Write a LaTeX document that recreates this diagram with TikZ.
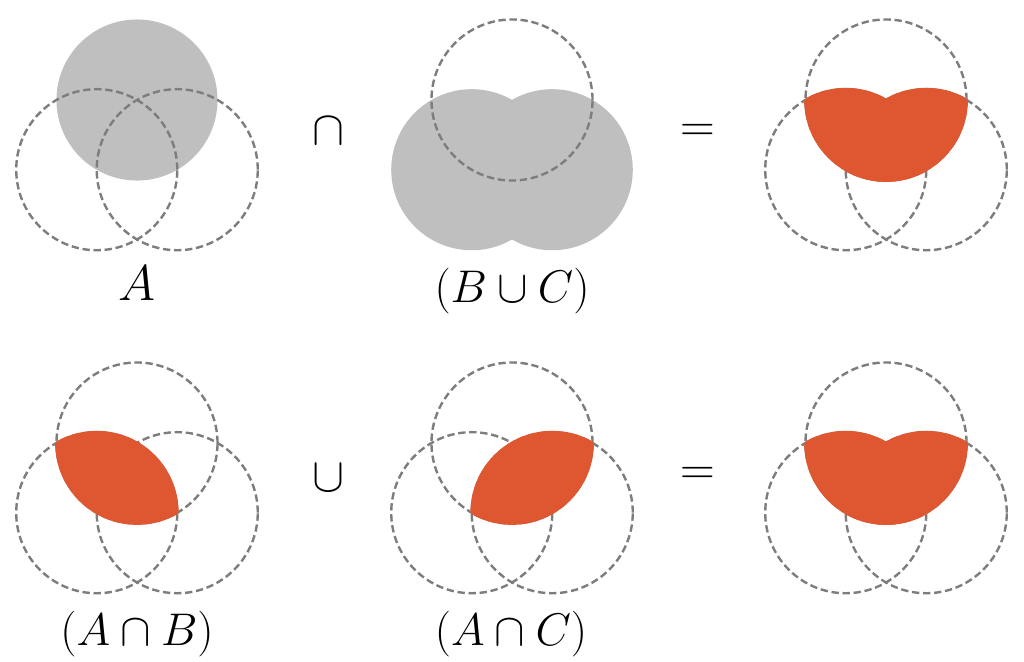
\documentclass[tikz,border=0pt]{standalone}
\usepackage{amsmath}
\usepackage{amssymb}
\usetikzlibrary{positioning}
\definecolor{setgray}{RGB}{191,191,191}
\definecolor{rimgray}{RGB}{125,125,125}
\definecolor{setorange}{RGB}{222,87,49}
\begin{document}
\begin{tikzpicture}[x=0.75pt,y=-0.75pt]
\tikzset{rim/.style={draw=rimgray, line width=1.8pt, dash pattern=on 5.5pt off 2.8pt}}
\tikzset{graypart/.style={fill=setgray}, hitpart/.style={fill=setorange}}
\tikzset{hitedge/.style={draw=setorange, line width=2pt}}
\tikzset{setlabel/.style={inner sep=0pt, anchor=base, font=\Huge, scale=1.38}}
\tikzset{opsign/.style={inner sep=0pt, font=\Huge, scale=1.45}}
\useasboundingbox (0,0) rectangle (1024,661);
% centres of the three sets in every panel
\coordinate (a1) at (137,100); \coordinate (b1) at (96.75,169.7); \coordinate (c1) at (177.25,169.7);
\coordinate (a2) at (512,100); \coordinate (b2) at (471.75,169.7); \coordinate (c2) at (552.25,169.7);
\coordinate (a3) at (886,100); \coordinate (b3) at (845.75,169.7); \coordinate (c3) at (926.25,169.7);
\coordinate (a4) at (137,443); \coordinate (b4) at (96.75,512.7); \coordinate (c4) at (177.25,512.7);
\coordinate (a5) at (512,443); \coordinate (b5) at (471.75,512.7); \coordinate (c5) at (552.25,512.7);
\coordinate (a6) at (886,443); \coordinate (b6) at (845.75,512.7); \coordinate (c6) at (926.25,512.7);
% A
\fill [graypart] (a1) circle [radius=60.4pt];
\draw [rim] (b1) circle [radius=60.4pt];
\draw [rim] (c1) circle [radius=60.4pt];
% B u C
\fill [graypart] (b2) circle [radius=60.4pt];
\fill [graypart] (c2) circle [radius=60.4pt];
\draw [rim] (a2) circle [radius=60.4pt];
% A n (B u C)
\draw [rim] (a3) circle [radius=60.4pt];
\draw [rim] (b3) circle [radius=60.4pt];
\draw [rim] (c3) circle [radius=60.4pt];
\begin{scope}
\clip (a3) circle [radius=60.4pt];
\fill [hitpart] (b3) circle [radius=60.4pt];
\fill [hitpart] (c3) circle [radius=60.4pt];
\draw [hitedge] (b3) circle [radius=60.4pt];
\draw [hitedge] (c3) circle [radius=60.4pt];
\end{scope}
\begin{scope}
\clip (b3) circle [radius=60.4pt];
\draw [hitedge] (a3) circle [radius=60.4pt];
\end{scope}
\begin{scope}
\clip (c3) circle [radius=60.4pt];
\draw [hitedge] (a3) circle [radius=60.4pt];
\end{scope}
% A n B
\draw [rim] (a4) circle [radius=60.4pt];
\draw [rim] (b4) circle [radius=60.4pt];
\draw [rim] (c4) circle [radius=60.4pt];
\begin{scope}
\clip (a4) circle [radius=60.4pt];
\fill [hitpart] (b4) circle [radius=60.4pt];
\draw [hitedge] (b4) circle [radius=60.4pt];
\end{scope}
\begin{scope}
\clip (b4) circle [radius=60.4pt];
\draw [hitedge] (a4) circle [radius=60.4pt];
\end{scope}
% A n C
\draw [rim] (a5) circle [radius=60.4pt];
\draw [rim] (b5) circle [radius=60.4pt];
\draw [rim] (c5) circle [radius=60.4pt];
\begin{scope}
\clip (a5) circle [radius=60.4pt];
\fill [hitpart] (c5) circle [radius=60.4pt];
\draw [hitedge] (c5) circle [radius=60.4pt];
\end{scope}
\begin{scope}
\clip (c5) circle [radius=60.4pt];
\draw [hitedge] (a5) circle [radius=60.4pt];
\end{scope}
% (A n B) u (A n C)
\draw [rim] (a6) circle [radius=60.4pt];
\draw [rim] (b6) circle [radius=60.4pt];
\draw [rim] (c6) circle [radius=60.4pt];
\begin{scope}
\clip (a6) circle [radius=60.4pt];
\fill [hitpart] (b6) circle [radius=60.4pt];
\fill [hitpart] (c6) circle [radius=60.4pt];
\draw [hitedge] (b6) circle [radius=60.4pt];
\draw [hitedge] (c6) circle [radius=60.4pt];
\end{scope}
\begin{scope}
\clip (b6) circle [radius=60.4pt];
\draw [hitedge] (a6) circle [radius=60.4pt];
\end{scope}
\begin{scope}
\clip (c6) circle [radius=60.4pt];
\draw [hitedge] (a6) circle [radius=60.4pt];
\end{scope}
% labels and signs
\node [setlabel, scale=1.1] (labA) at (137,300) {$A$};
\node [setlabel] (labBC) at (512,302) {$(B\cup C)$};
\node [setlabel] (labAB) at (137,645) {$(A\cap B)$};
\node [setlabel] (labAC) at (511,645) {$(A\cap C)$};
\node [opsign] (capsign) at (329,131) {$\cap$};
\node [opsign] (eqtop) at (698,133) {$=$};
\node [opsign] (cupsign) at (329,478) {$\cup$};
\node [opsign] (eqbot) at (698,476) {$=$};
\end{tikzpicture}
\end{document}
